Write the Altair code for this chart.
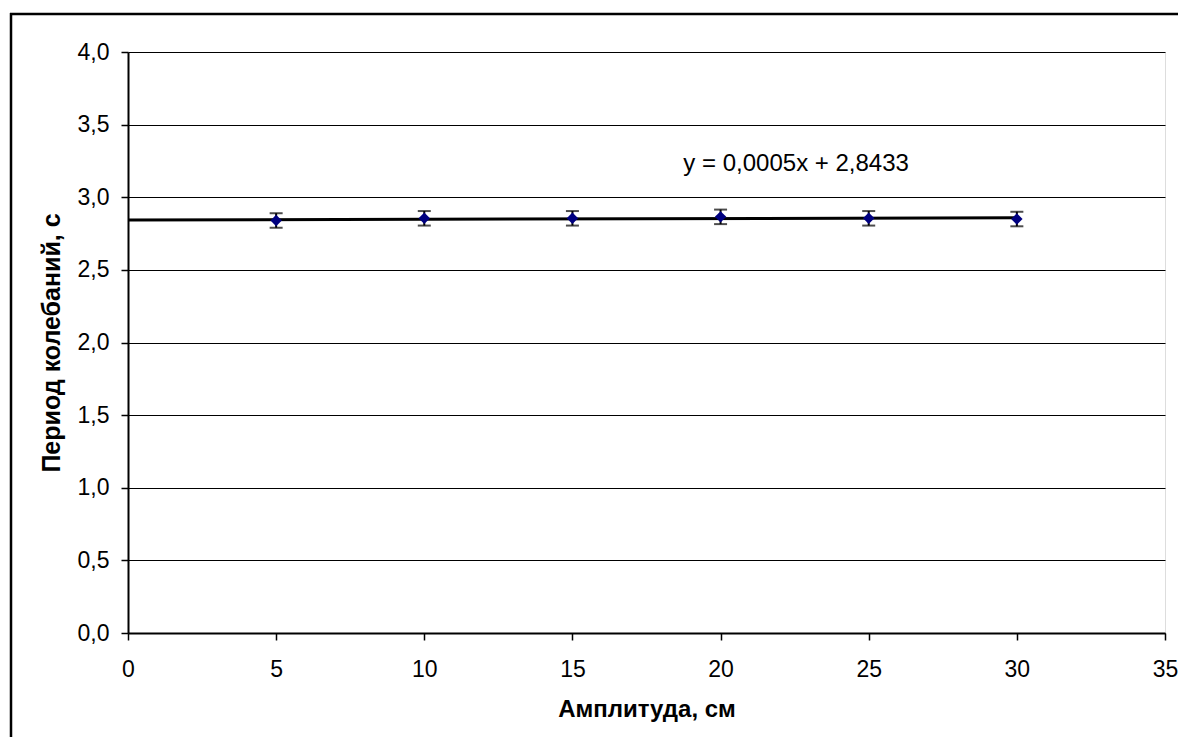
import altair as alt
import pandas as pd

amplitude = [5, 10, 15, 20, 25, 30]
period = [2.84, 2.855, 2.855, 2.865, 2.855, 2.85]
err = [0.05, 0.05, 0.05, 0.05, 0.05, 0.05]

trend_x = [0, 30]
trend_y = [2.8433, 2.8583]

eq_text = ["y = 0,0005x + 2,8433"]
eq_x = [22.55]
eq_y = [3.23]

FONT = "Liberation Sans"

df = pd.DataFrame({"x": amplitude, "y": period, "e": err})
df["lo"] = df["y"] - df["e"]
df["hi"] = df["y"] + df["e"]
tr = pd.DataFrame({"x": trend_x, "y": trend_y})
lab = pd.DataFrame({"x": eq_x, "y": eq_y, "t": eq_text})

xscale = alt.Scale(domain=[0, 35], nice=False, zero=False)
yscale = alt.Scale(domain=[0, 4], nice=False, zero=False)

xaxis = alt.Axis(
    title="Амплитуда, см", values=[0, 5, 10, 15, 20, 25, 30, 35], grid=False,
    domainColor="black", domainWidth=2, tickColor="black", tickWidth=1.5, tickSize=7,
    labelFont=FONT, labelFontSize=23, labelColor="black", labelPadding=18,
    titleFont=FONT, titleFontSize=24, titleFontWeight="bold", titleColor="black",
    titlePadding=16, labelFlush=False,
)
yaxis = alt.Axis(
    title="Период колебаний, с", values=[0, 0.5, 1, 1.5, 2, 2.5, 3, 3.5, 4],
    labelExpr="replace(format(datum.value, '.1f'), '.', ',')",
    grid=True, gridColor="black", gridWidth=1.2,
    domainColor="black", domainWidth=2, tickColor="black", tickWidth=1.5, tickSize=7,
    labelFont=FONT, labelFontSize=23, labelColor="black", labelPadding=12,
    titleFont=FONT, titleFontSize=25, titleFontWeight="bold", titleColor="black",
    titlePadding=13, labelFlush=False,
)

base = alt.Chart(df)

axes_layer = base.mark_point(opacity=0).encode(
    x=alt.X("x:Q", scale=xscale, axis=xaxis),
    y=alt.Y("y:Q", scale=yscale, axis=yaxis),
)

trend = alt.Chart(tr).mark_line(color="black", strokeWidth=3).encode(
    x=alt.X("x:Q", scale=xscale),
    y=alt.Y("y:Q", scale=yscale),
)

bars = base.mark_rule(color="black", strokeWidth=2).encode(
    x=alt.X("x:Q", scale=xscale),
    y=alt.Y("lo:Q", scale=yscale),
    y2="hi:Q",
)
caps_lo = base.mark_tick(color="black", thickness=2, size=13, orient="horizontal").encode(
    x=alt.X("x:Q", scale=xscale),
    y=alt.Y("lo:Q", scale=yscale),
)
caps_hi = base.mark_tick(color="black", thickness=2, size=13, orient="horizontal").encode(
    x=alt.X("x:Q", scale=xscale),
    y=alt.Y("hi:Q", scale=yscale),
)
points = base.mark_point(shape="diamond", filled=True, color="#000080", size=130, opacity=1).encode(
    x=alt.X("x:Q", scale=xscale),
    y=alt.Y("y:Q", scale=yscale),
)

eq = alt.Chart(lab).mark_text(font=FONT, fontSize=24, color="black", align="center", baseline="middle").encode(
    x=alt.X("x:Q", scale=xscale),
    y=alt.Y("y:Q", scale=yscale),
    text="t:N",
)

frame_top = alt.Chart(lab).mark_rule(color="black", strokeWidth=2.5).encode(
    x=alt.value(-118), x2=alt.value(1060), y=alt.value(-38)
)
frame_left = alt.Chart(lab).mark_rule(color="black", strokeWidth=2.5).encode(
    x=alt.value(-117), y=alt.value(-39), y2=alt.value(700)
)

chart = alt.layer(
    axes_layer, trend, bars, caps_lo, caps_hi, points, eq, frame_top, frame_left
).properties(
    width=1037, height=581,
    autosize=alt.AutoSizeParams(type="none"),
    padding={"left": 120, "top": 44, "right": 13, "bottom": 104},
).configure_view(
    stroke="#808080", strokeWidth=2
).configure(background="white")

chart.save("out.html", embed_options={"renderer": "svg", "actions": False})
